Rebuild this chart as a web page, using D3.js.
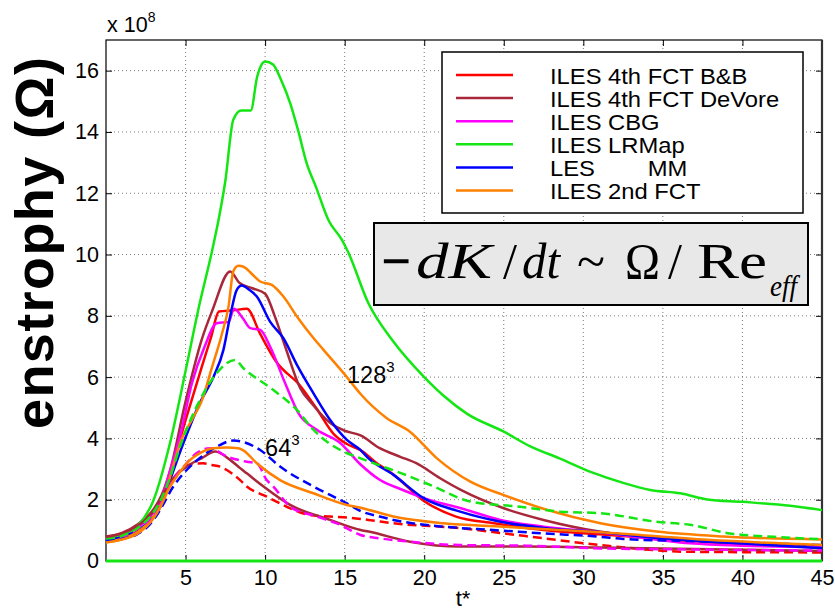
<!DOCTYPE html>
<html>
<head>
<meta charset="utf-8">
<script src="https://cdn.jsdelivr.net/npm/d3@7"></script>
<style>
  body { margin: 0; background: #fff; }
  svg { display: block; font-family: "Liberation Sans", Arial, Helvetica, sans-serif; }
</style>
</head>
<body>
<svg id="chart" width="835" height="610"></svg>
<script>
// ---- Enstrophy histories (units of 1e8), time t* ----
// 128^3 runs (solid)
const tBB128 = [0, 1, 2, 3, 3.5, 4, 5, 6, 6.6, 7.1, 8, 8.85, 9.7, 10.7, 12.2, 13.2, 14.3, 15.2, 16, 17, 18, 20, 22, 24.4, 27.5, 31, 35, 40, 45];
const vBB128 = [0.75, 0.88, 1.12, 1.65, 2.1, 2.8, 4.6, 6.3, 7.3, 8.14, 8.18, 8.23, 7.4, 6.5, 5.72, 5.0, 4.15, 3.8, 3.62, 3.2, 2.85, 1.95, 1.45, 1.23, 1.01, 0.87, 0.72, 0.56, 0.46];

const tDeVore128 = [0, 1, 2, 3, 3.5, 4, 5, 6, 6.7, 7.8, 8.4, 9.2, 10, 10.6, 11.26, 12.2, 13, 14.1, 15, 16, 17.2, 18.5, 19.5, 21, 22.3, 25, 27.5, 31, 35, 40, 45];
const vDeVore128 = [0.8, 0.92, 1.2, 1.7, 2.15, 2.9, 5.2, 7.2, 8.2, 9.45, 9.07, 8.9, 8.72, 8.0, 7.0, 5.65, 5.1, 4.5, 4.25, 4.1, 3.68, 3.4, 3.19, 2.7, 2.32, 1.72, 1.34, 0.96, 0.72, 0.56, 0.47];

const tCBG128 = [0, 1, 2, 3, 3.5, 4, 4.65, 5.4, 6.2, 6.96, 7.7, 8.05, 8.6, 9.06, 9.7, 10.31, 11.26, 12.1, 13.25, 14.72, 16, 17.2, 18.5, 20, 22.3, 24.8, 27.5, 31, 36.7, 40, 45];
const vCBG128 = [0.72, 0.85, 1.1, 1.6, 2.05, 2.9, 4.06, 5.8, 7.0, 7.76, 7.8, 8.23, 7.92, 7.6, 7.54, 7.0, 5.8, 4.82, 4.28, 3.85, 3.15, 2.65, 2.35, 2.05, 1.72, 1.34, 1.12, 0.94, 0.58, 0.5, 0.45];

const tLRMap128 = [0, 1, 2, 3, 4, 5, 5.8, 6.7, 7.1, 7.5, 8, 8.5, 9.1, 9.5, 10, 10.5, 11, 11.6, 12.1, 12.6, 13.2, 14, 14.8, 15.2, 16.5, 18, 20, 21.2, 22.7, 25, 26.7, 28.5, 30.5, 32.5, 34.2, 36.1, 37.8, 40, 43, 45];
const vLRMap128 = [0.75, 0.85, 1.15, 2.0, 3.8, 6.2, 8.2, 10.2, 11.2, 12.4, 14.4, 14.7, 14.7, 15.8, 16.3, 16.2, 15.7, 14.9, 14.0, 13.0, 12.2, 11.1, 10.5, 10.1, 8.4, 7.2, 6.0, 5.4, 4.8, 4.22, 3.73, 3.35, 2.9, 2.55, 2.32, 2.21, 2.01, 1.93, 1.8, 1.66];

const tMM128 = [0, 1, 2, 3, 3.5, 4, 4.9, 5.9, 6.75, 7.38, 7.8, 8.22, 8.53, 9.0, 9.48, 10.31, 11.15, 12.0, 13.04, 14.09, 15.14, 16, 16.5, 18.07, 19.96, 22.26, 24.8, 27.5, 31.07, 35, 38, 40, 45];
const vMM128 = [0.68, 0.78, 1.0, 1.45, 1.85, 2.6, 3.9, 5.16, 6.0, 6.89, 7.98, 8.85, 8.99, 8.85, 8.63, 7.81, 7.27, 6.4, 5.47, 4.6, 3.95, 3.62, 3.35, 2.81, 2.05, 1.61, 1.28, 1.08, 0.94, 0.74, 0.63, 0.57, 0.42];

const tFCT2_128 = [0, 1, 2, 3, 3.5, 4, 4.7, 5.5, 6.0, 6.65, 7.28, 7.7, 8.0, 8.32, 8.64, 9.2, 9.69, 10.42, 11.15, 12.0, 13.0, 13.67, 15.14, 16, 17.65, 19.1, 20.8, 22.9, 25, 27.7, 31.07, 34.6, 38.8, 45];
const vFCT2_128 = [0.62, 0.72, 0.95, 1.45, 1.85, 2.7, 3.9, 4.7, 5.2, 6.3, 7.4, 8.3, 9.45, 9.63, 9.6, 9.35, 9.12, 9.01, 8.63, 7.98, 7.3, 6.89, 6.0, 5.45, 4.66, 4.22, 3.35, 2.59, 2.15, 1.67, 1.23, 0.96, 0.8, 0.7];

// LRMap reference level along zero
const tZero = [0, 45];
const vZero = [0, 0];

// 64^3 runs
const tBB64 = [0, 1, 2, 3, 3.5, 4, 4.65, 5.3, 6.12, 6.65, 7.17, 7.59, 8.43, 8.85, 10.1, 10.52, 12.83, 14.09, 15.14, 16.5, 18.07, 22.26, 25, 27.5, 31.07, 36.7, 45];
const vBB64 = [0.7, 0.82, 1.05, 1.55, 1.95, 2.5, 2.95, 3.15, 3.19, 3.13, 3.08, 2.97, 2.64, 2.43, 2.1, 1.99, 1.5, 1.45, 1.42, 1.34, 1.23, 1.07, 0.9, 0.74, 0.52, 0.3, 0.28];

const tDeVore64 = [0, 1, 2, 3, 3.5, 4, 5.07, 6, 6.86, 7.8, 8.43, 8.85, 9.9, 11.57, 14.09, 16, 16.5, 19.1, 22.26, 26.5, 31.07, 36, 45];
const vDeVore64 = [0.78, 0.9, 1.15, 1.65, 2.1, 2.55, 3.08, 3.35, 3.57, 3.3, 3.03, 2.86, 2.43, 1.83, 1.34, 1.01, 0.96, 0.63, 0.47, 0.47, 0.44, 0.4, 0.33];

const tCBG64 = [0, 1, 2, 3, 3.5, 4, 5, 5.7, 6.54, 7.59, 8.85, 9.48, 10.1, 10.52, 11.36, 11.57, 13.25, 14.72, 16, 17.2, 19.1, 22.26, 26.5, 31.07, 36, 45];
const vCBG64 = [0.68, 0.8, 1.05, 1.5, 1.9, 2.45, 3.15, 3.52, 3.68, 3.41, 3.24, 3.19, 2.64, 2.43, 1.88, 1.77, 1.45, 1.18, 0.85, 0.74, 0.63, 0.52, 0.5, 0.41, 0.38, 0.34];

const tLRMap64 = [0, 1, 2, 3, 3.5, 4, 4.65, 5.91, 6.96, 8.11, 8.64, 10.52, 12, 13, 14, 15, 16, 17.2, 18.28, 20.38, 22.9, 26, 28.55, 31.07, 34.6, 36.7, 39.2, 42, 45];
const vLRMap64 = [0.7, 0.82, 1.08, 1.6, 2.05, 2.7, 3.73, 5.26, 6.13, 6.56, 6.29, 5.58, 4.93, 4.3, 3.85, 3.55, 3.35, 3.12, 2.92, 2.48, 1.94, 1.77, 1.61, 1.56, 1.28, 1.18, 0.9, 0.79, 0.71];

const tMM64 = [0, 1, 2, 3, 3.4, 4.23, 5.07, 6, 6.96, 8.0, 8.5, 9.69, 10.94, 13.04, 15.14, 16, 17.2, 18.07, 21.2, 24.36, 27.5, 31.07, 32.5, 36.7, 40, 45];
const vMM64 = [0.65, 0.72, 0.88, 1.35, 1.67, 2.43, 2.97, 3.4, 3.73, 3.93, 3.9, 3.62, 3.08, 2.43, 1.88, 1.63, 1.45, 1.34, 1.12, 1.01, 0.9, 0.79, 0.72, 0.65, 0.6, 0.52];

const tFCT2_64 = [0, 1, 2, 3, 3.5, 4, 4.44, 5.07, 5.91, 6.75, 7.59, 8.32, 8.6, 9.48, 10.94, 13.04, 15.14, 16, 18.07, 21.2, 25, 28.55, 31.07, 37.8, 45];
const vFCT2_64 = [0.6, 0.7, 0.9, 1.4, 1.85, 2.4, 2.75, 3.19, 3.52, 3.68, 3.7, 3.68, 3.62, 3.19, 2.64, 2.21, 1.83, 1.74, 1.45, 1.23, 1.12, 1.01, 0.94, 0.69, 0.52];

// Legend and tick text
const legendLabels = ["ILES 4th FCT B&B", "ILES 4th FCT DeVore", "ILES CBG", "ILES LRMap", "LES        MM", "ILES 2nd FCT"];
const xTicks = [5, 10, 15, 20, 25, 30, 35, 40, 45];
const yTicks = [0, 2, 4, 6, 8, 10, 12, 14, 16];

// Colours
const cRed = "#ff0000", cBrown = "#a8283a", cMagenta = "#ff00ff", cGreen = "#14e614", cBlue = "#0000ff", cOrange = "#ff8000";

const series = [
  { t: tBB128, v: vBB128, color: cRed, dash: null },
  { t: tDeVore128, v: vDeVore128, color: cBrown, dash: null },
  { t: tCBG128, v: vCBG128, color: cMagenta, dash: null },
  { t: tLRMap128, v: vLRMap128, color: cGreen, dash: null },
  { t: tMM128, v: vMM128, color: cBlue, dash: null },
  { t: tFCT2_128, v: vFCT2_128, color: cOrange, dash: null },
  { t: tBB64, v: vBB64, color: cRed, dash: "9,5" },
  { t: tDeVore64, v: vDeVore64, color: cBrown, dash: null },
  { t: tCBG64, v: vCBG64, color: cMagenta, dash: "9,5" },
  { t: tLRMap64, v: vLRMap64, color: cGreen, dash: "9,5" },
  { t: tMM64, v: vMM64, color: cBlue, dash: "9,5" },
  { t: tFCT2_64, v: vFCT2_64, color: cOrange, dash: null },
  { t: tZero, v: vZero, color: cGreen, dash: null, width: 3 }
];
const legendColors = [cRed, cBrown, cMagenta, cGreen, cBlue, cOrange];

// ---- Layout ----
const svg = d3.select("#chart");
const L = 106, R = 822, T = 40, B = 561;
const x = d3.scaleLinear().domain([0, 45]).range([L, R]);
const y = d3.scaleLinear().domain([0, 17]).range([B, T]);

// dotted grid
const grid = svg.append("g").attr("stroke", "#7a7a7a").attr("stroke-width", 1).attr("stroke-dasharray", "1,3");
xTicks.filter(d => d < 45).forEach(d => {
  grid.append("line").attr("x1", x(d)).attr("x2", x(d)).attr("y1", T).attr("y2", B);
});
yTicks.filter(d => d > 0).forEach(d => {
  grid.append("line").attr("x1", L).attr("x2", R).attr("y1", y(d)).attr("y2", y(d));
});

// axes (inward ticks on all sides)
const axB = svg.append("g").attr("transform", `translate(0,${B})`)
  .call(d3.axisBottom(x).tickValues(xTicks).tickSize(-6).tickPadding(9));
const axL = svg.append("g").attr("transform", `translate(${L},0)`)
  .call(d3.axisLeft(y).tickValues(yTicks).tickSize(-6).tickPadding(7));
const axT = svg.append("g").attr("transform", `translate(0,${T})`)
  .call(d3.axisTop(x).tickValues(xTicks).tickSize(-6).tickFormat(""));
const axR = svg.append("g").attr("transform", `translate(${R},0)`)
  .call(d3.axisRight(y).tickValues(yTicks).tickSize(-6).tickFormat(""));
[axB, axL, axT, axR].forEach(g => {
  g.select(".domain").remove();
  g.selectAll("line").attr("stroke", "#000");
  g.selectAll("text").attr("font-size", 21.5).attr("fill", "#000")
    .attr("font-family", "'Liberation Sans', Arial, Helvetica, sans-serif");
});

// axes box
svg.append("rect").attr("x", L).attr("y", T).attr("width", R - L).attr("height", B - T)
  .attr("fill", "none").attr("stroke", "#000").attr("stroke-width", 1.2);
svg.append("line").attr("x1", R).attr("x2", R).attr("y1", T).attr("y2", B)
  .attr("stroke", "#333").attr("stroke-width", 2.2);

// curves
const line = d3.line().x(d => x(d[0])).y(d => y(d[1])).curve(d3.curveMonotoneX);
series.forEach(s => {
  svg.append("path")
    .datum(d3.zip(s.t, s.v))
    .attr("d", line)
    .attr("fill", "none")
    .attr("stroke", s.color)
    .attr("stroke-width", s.width || 2.5)
    .attr("stroke-linejoin", "round")
    .attr("stroke-dasharray", s.dash);
});

// resolution labels
const res = [{ base: "128", tx: 15.15, ty: 5.8 }, { base: "64", tx: 10.0, ty: 3.44 }];
res.forEach(r => {
  const t = svg.append("text").attr("x", x(r.tx)).attr("y", y(r.ty)).attr("font-size", 23.5).attr("fill", "#000");
  t.append("tspan").text(r.base);
  t.append("tspan").attr("font-size", 15).attr("dy", -11).text("3");
});

// legend
const lg = svg.append("g");
lg.append("rect").attr("x", 442).attr("y", 52).attr("width", 361).attr("height", 161)
  .attr("fill", "#fff").attr("stroke", "#000").attr("stroke-width", 1.5);
legendLabels.forEach((lab, i) => {
  const yy = 75 + i * 23.1;
  lg.append("line").attr("x1", 456).attr("x2", 513).attr("y1", yy).attr("y2", yy)
    .attr("stroke", legendColors[i]).attr("stroke-width", 2.5);
  lg.append("text").attr("transform", `translate(550,${yy + 8.5}) scale(1.08,1)`).attr("font-size", 22)
    .style("white-space", "pre").attr("fill", "#000").text(lab);
});

// dissipation relation box
const fb = svg.append("g");
fb.append("rect").attr("x", 374).attr("y", 223).attr("width", 434).attr("height", 82)
  .attr("fill", "#e8e8e8").attr("stroke", "#000").attr("stroke-width", 2);
const pieces = [
  { s: "\u2212", x: 382, w: 28, it: false, bold: true },
  { s: "dK", x: 416, w: 76, it: true },
  { s: "/", x: 503, w: 14, it: false },
  { s: "dt", x: 522, w: 38, it: true },
  { s: "~", x: 577, w: 28, it: false },
  { s: "\u03A9", x: 625, w: 35, it: false },
  { s: "/", x: 668, w: 14, it: false },
  { s: "Re", x: 697, w: 70, it: false }
];
pieces.forEach(p => {
  fb.append("text").attr("x", p.x).attr("y", 278)
    .attr("font-family", "'Liberation Serif', 'Times New Roman', serif")
    .attr("font-size", 50).attr("font-style", p.it ? "italic" : "normal")
    .attr("textLength", p.w).attr("lengthAdjust", "spacingAndGlyphs")
    .attr("stroke", p.bold ? "#000" : "none").attr("stroke-width", p.bold ? 1.6 : 0)
    .attr("fill", "#000").text(p.s);
});
fb.append("text").attr("x", 770).attr("y", 296)
  .attr("font-family", "'Liberation Serif', 'Times New Roman', serif")
  .attr("font-size", 30).attr("font-style", "italic")
  .attr("textLength", 27).attr("lengthAdjust", "spacingAndGlyphs")
  .attr("fill", "#000").text("eff");

// exponent marker
const ex = svg.append("text").attr("x", 107).attr("y", 32).attr("font-size", 21.5).attr("fill", "#000");
ex.append("tspan").text("x 10");
ex.append("tspan").attr("font-size", 14).attr("dy", -10).text("8");

// axis titles
svg.append("text").attr("x", 463).attr("y", 606).attr("text-anchor", "middle")
  .attr("font-size", 22).attr("fill", "#000").text("t*");
svg.append("text").attr("transform", "translate(53,243) rotate(-90)")
  .attr("text-anchor", "middle").attr("font-size", 54).attr("font-weight", "bold")
  .attr("textLength", 372).attr("fill", "#000").text("enstrophy (\u03A9)");
</script>
</body>
</html>
